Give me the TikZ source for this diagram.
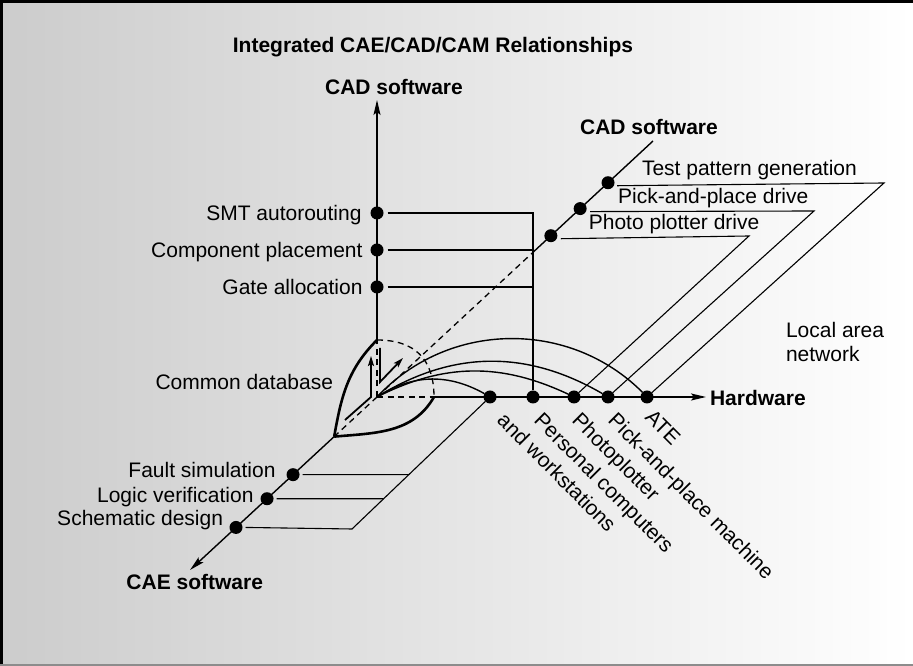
\documentclass[tikz,border=0pt]{standalone}
\usepackage{fontspec}
\setmainfont{Liberation Sans}
\usetikzlibrary{arrows.meta,calc}
\begin{document}
\begin{tikzpicture}[x=1pt,y=1pt,
  every node/.style={font=\fontsize{21}{24}\selectfont, inner sep=0pt, outer sep=0pt},
  boldlbl/.style={font=\fontsize{21}{24}\selectfont\bfseries},
  axis/.style={line width=1.4pt},
  axarrow/.style={-{Stealth[length=15pt,width=7pt,inset=3pt]}},
  conn/.style={line width=1.1pt},
  hidden/.style={line width=1.3pt, dash pattern=on 6pt off 4.5pt},
  dot/.style={circle, fill=black, minimum size=13pt, inner sep=0pt},
  rlabel/.style={rotate=-45, anchor=base west},
  arcline/.style={line width=1.4pt},
  leaf/.style={line width=2.6pt},
  flowarrow/.style={line width=1.8pt, -{Stealth[length=10pt,width=6pt,inset=2pt]}},
]
\useasboundingbox (0,0) rectangle (913,666);
\shade[left color=black!20, right color=white] (0,0) rectangle (913,666);
\draw[line width=3pt] (1.5,0) -- (1.5,664.5) -- (913,664.5);
\draw[line width=1.5pt, black!45] (0,1) -- (913,1);

% axis points
\coordinate (O) at (377,269);
\coordinate (ytip) at (377,566);
\coordinate (T) at (377,326);
\coordinate (B) at (434,269);
\coordinate (xtip) at (706,269);
\coordinate (ztip) at (190,96);
\coordinate (Z) at ($(O)!0.229!(ztip)$);
\coordinate (wend) at (653,525);
\coordinate (wvis) at ($(O)!0.565!(wend)$);

% dots
\node[dot] (v1) at (377,453) {};
\node[dot] (v2) at (377,416) {};
\node[dot] (v3) at (377,379) {};
\node[dot] (h1) at (490,269) {};
\node[dot] (h2) at (533,269) {};
\node[dot] (h3) at (574,269) {};
\node[dot] (h4) at (608,269) {};
\node[dot] (h5) at (647,269) {};
\node[dot] (fd) at ($(O)!0.449!(ztip)$) {};
\node[dot] (ld) at ($(O)!0.588!(ztip)$) {};
\node[dot] (sd) at ($(O)!0.754!(ztip)$) {};
\node[dot] (d1) at ($(O)!0.630!(wend)$) {};
\node[dot] (d2) at ($(O)!0.736!(wend)$) {};
\node[dot] (d3) at ($(O)!0.837!(wend)$) {};

% hidden parts
\draw[hidden] (O) -- (T);
\draw[hidden] (O) -- (B);
\draw[hidden] (O) -- (Z);
\draw[hidden] (O) -- (wvis);
\draw[hidden] (T) to[out=0,in=90,looseness=1.2] (B);

% axes
\draw[axis, axarrow] (T) -- (ytip);
\draw[axis, line width=1.8pt, axarrow] (B) -- (xtip);
\draw[axis, axarrow] (Z) -- (ztip);
\draw[axis] (wvis) -- (wend);

% common database leaf
\draw[leaf] (T) to[out=-135,in=80] (Z);
\draw[leaf] (B) to[out=-120,in=5] (Z);

% flow arrows
\coordinate (fa1) at (345,246);
\coordinate (fa2) at (371,269);
\coordinate (fa3) at (371,310);
\draw[flowarrow] (fa1) -- (fa2) -- (fa3);
\coordinate (fb1) at (380,318);
\coordinate (fb2) at (380,284);
\coordinate (fb3) at (403,308);
\draw[flowarrow] (fb1) -- (fb2) -- (fb3);

% arcs from the database to the hardware
\draw[arcline] (O) to[bend left=46] (h5);
\draw[arcline] (O) to[bend left=31] (h4);
\draw[arcline] (O) to[bend left=26] (h3);
\draw[arcline] (O) to[bend left=31] (h1);

% CAD (vertical) connections
\draw[conn] ([xshift=4pt]v1.east) -| (h2);
\draw[conn] ([xshift=4pt]v2.east) -- (v2 -| h2);
\draw[conn] ([xshift=4pt]v3.east) -- (v3 -| h2);

% CAE connections
\coordinate (sc) at (352,137);
\coordinate (fr) at ($(fd)+(200,0)$);
\coordinate (lr) at ($(ld)+(200,0)$);
\draw[conn] ([xshift=3pt]sd.east) -- (sc) -- (h1);
\draw[conn] ([xshift=3pt]fd.east) -- (intersection of fd--fr and sc--h1);
\draw[conn] ([xshift=3pt]ld.east) -- (intersection of ld--lr and sc--h1);

% CAM connections
\coordinate (pr) at (749,430);
\coordinate (kr) at (814,455);
\coordinate (tr) at (884,483);
\draw[conn] ([shift={(10,-3)}]d1.center) -- (pr) -- (h3);
\draw[conn] ([shift={(10,-3)}]d2.center) -- (kr) -- (h4);
\draw[conn] ([shift={(9,-3)}]d3.center) -- (tr) -- (h5);

% labels
\node[boldlbl, anchor=base] (title) at (433,613.5) {Integrated CAE/CAD/CAM Relationships};
\node[boldlbl, anchor=base] (cadtop) at (394,571.5) {CAD software};
\node[boldlbl, anchor=base] (cadside) at (649,531.5) {CAD software};
\node[boldlbl, anchor=base east] (cae) at (263,76.5) {CAE software};
\node[boldlbl, anchor=base west] (hw) at (710,260.5) {Hardware};
\node[anchor=north west, align=left] (lan) at (786,344) {Local area\\network};

\node[anchor=base east] at ($(v1)+(-15.5,-7.5)$) {SMT autorouting};
\node[anchor=base east] at ($(v2)+(-14.5,-7.5)$) {Component placement};
\node[anchor=base east] at ($(v3)+(-14.5,-7.5)$) {Gate allocation};
\node[anchor=base east] at (333,276.5) {Common database};

\node[anchor=base east] at (275.5,188) {Fault simulation};
\node[anchor=base east] at (253.5,163) {Logic verification};
\node[anchor=base east] at (223,140) {Schematic design};

\node[anchor=base west] at ($(d1)+(38,6)$) {Photo plotter drive};
\node[anchor=base west] at ($(d2)+(38,5)$) {Pick-and-place drive};
\node[anchor=base west] at ($(d3)+(34,7)$) {Test pattern generation};

\node[rlabel] at ($(h2)+(0,-25)$) {Personal computers};
\node[rlabel] at ($(h1)+(6,-25)$) {and workstations};
\node[rlabel] at ($(h3)+(-3,-25)$) {Photoplotter};
\node[rlabel] at ($(h4)+(-1,-25)$) {Pick-and-place machine};
\node[rlabel] at ($(h5)+(-3,-22)$) {ATE};
\end{tikzpicture}
\end{document}
